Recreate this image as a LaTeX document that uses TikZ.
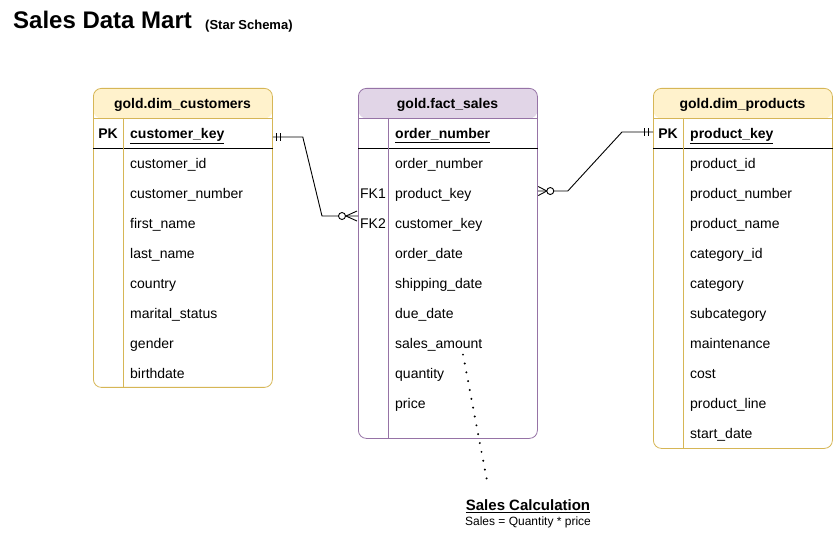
\documentclass[tikz,border=0pt]{standalone}
\usepackage{fontspec}
\setmainfont{Liberation Sans}
\definecolor{dimfill}{HTML}{FFF2CC}
\definecolor{dimborder}{HTML}{D6B656}
\definecolor{factfill}{HTML}{E1D5E7}
\definecolor{factborder}{HTML}{9673A6}
\tikzset{
  tablebox/.style={rounded corners=8pt, fill=white, inner sep=0pt, minimum width=179pt,
    anchor=north west, line width=0.8pt},
  dimtab/.style={tablebox, draw=dimborder,
    path picture={\fill[dimfill] (path picture bounding box.north west) rectangle ([yshift=-30pt]path picture bounding box.north east);}},
  facttab/.style={tablebox, draw=factborder,
    path picture={\fill[factfill] (path picture bounding box.north west) rectangle ([yshift=-30pt]path picture bounding box.north east);}},
  htitle/.style={inner sep=0pt, yshift=-2pt, font=\fontsize{14}{17}\selectfont\bfseries},
  rowtxt/.style={inner sep=0pt, anchor=mid west, yshift=-3pt, font=\fontsize{14}{17}\selectfont},
  keytxt/.style={rowtxt, font=\fontsize{14}{17}\selectfont\bfseries},
  keylab/.style={inner sep=0pt, anchor=mid, yshift=-3pt, font=\fontsize{14}{17}\selectfont\bfseries},
  fklab/.style={inner sep=0pt, anchor=mid, yshift=-3pt, font=\fontsize{14}{17}\selectfont},
  conn/.style={line width=0.9pt, black},
  dotline/.style={line width=2.2pt, dash pattern=on 0pt off 9pt, line cap=round}
}
\begin{document}
\begin{tikzpicture}[x=1pt,y=-1pt]
\useasboundingbox (0,0) rectangle (833,537);

% title
\node[inner sep=0pt, anchor=mid west, font=\fontsize{24}{28}\selectfont\bfseries] (title) at (13,26) {Sales Data Mart};
\node[inner sep=0pt, anchor=mid west, font=\fontsize{13}{15}\selectfont\bfseries] (subtitle) at (205,27) {(Star Schema)};

% ---------------- customers ----------------
\node[dimtab, minimum height=299pt] (cust) at (93,88) {};
\draw[dimborder, line width=0.8pt] ([yshift=-30pt]cust.north west) -- ([yshift=-30pt]cust.north east);
\draw[black, line width=0.8pt] ([yshift=-60pt]cust.north west) -- ([yshift=-60pt]cust.north east);
\draw[dimborder, line width=0.8pt] ([xshift=30pt,yshift=-30pt]cust.north west) -- ([xshift=30pt]cust.south west);
\node[htitle] (ctitle) at (182.5,103) {gold.dim\_customers};
\node[keylab] (cpk) at (108,133) {PK};
\node[keytxt] (ckey) at (130,133) {\underline{customer\_key}};
\foreach \t [count=\i] in {customer\_id, customer\_number, first\_name, last\_name, country, marital\_status, gender, birthdate}
  \node[rowtxt] (c\i) at (130,{133+30*\i}) {\t};

% ---------------- fact ----------------
\node[facttab, minimum height=350pt] (fact) at (358,88) {};
\draw[factborder, line width=0.8pt] ([yshift=-30pt]fact.north west) -- ([yshift=-30pt]fact.north east);
\draw[black, line width=0.8pt] ([yshift=-60pt]fact.north west) -- ([yshift=-60pt]fact.north east);
\draw[factborder, line width=0.8pt] ([xshift=30pt,yshift=-30pt]fact.north west) -- ([xshift=30pt]fact.south west);
\node[htitle] (ftitle) at (447.5,103) {gold.fact\_sales};
\node[keytxt] (fkey) at (395,133) {\underline{order\_number}};
\foreach \t [count=\i] in {order\_number, product\_key, customer\_key, order\_date, shipping\_date, due\_date, sales\_amount, quantity, price}
  \node[rowtxt] (f\i) at (395,{133+30*\i}) {\t};
\node[fklab] (fk1) at (373,193) {FK1};
\node[fklab] (fk2) at (373,223) {FK2};

% ---------------- products ----------------
\node[dimtab, minimum height=360pt] (prod) at (653,88) {};
\draw[dimborder, line width=0.8pt] ([yshift=-30pt]prod.north west) -- ([yshift=-30pt]prod.north east);
\draw[black, line width=0.8pt] ([yshift=-60pt]prod.north west) -- ([yshift=-60pt]prod.north east);
\draw[dimborder, line width=0.8pt] ([xshift=30pt,yshift=-30pt]prod.north west) -- ([xshift=30pt]prod.south west);
\node[htitle] (ptitle) at (742.5,103) {gold.dim\_products};
\node[keylab] (ppk) at (668,133) {PK};
\node[keytxt] (pkey) at (690,133) {\underline{product\_key}};
\foreach \t [count=\i] in {product\_id, product\_number, product\_name, category\_id, category, subcategory, maintenance, cost, product\_line, start\_date}
  \node[rowtxt] (p\i) at (690,{133+30*\i}) {\t};

% ---------------- connector customers -> fact ----------------
\coordinate (s1) at ([yshift=-1pt]cust.east |- ckey);
\coordinate (e1) at ([yshift=9pt]fact.west |- f3);
\draw[conn] (s1) -- ++(30,0) -- ([xshift=-36pt]e1) -- (e1);
\draw[conn] ([xshift=4pt,yshift=4pt]s1) -- ([xshift=4pt,yshift=-4pt]s1);
\draw[conn] ([xshift=7.5pt,yshift=4pt]s1) -- ([xshift=7.5pt,yshift=-4pt]s1);
\draw[conn] ([xshift=-12pt]e1) -- ([xshift=-1pt,yshift=5pt]e1);
\draw[conn] ([xshift=-12pt]e1) -- ([xshift=-1pt,yshift=-5pt]e1);
\draw[conn, fill=white] ([xshift=-16pt]e1) circle[radius=3.5pt];

% ---------------- connector fact -> products ----------------
\coordinate (s2) at ([yshift=4pt]fact.east |- f2);
\coordinate (e2) at ([yshift=4pt]prod.west |- pkey);
\draw[conn] (s2) -- ++(30,0) -- ([xshift=-31pt]e2) -- (e2);
\draw[conn] ([xshift=-8.5pt,yshift=4pt]e2) -- ([xshift=-8.5pt,yshift=-4pt]e2);
\draw[conn] ([xshift=-5pt,yshift=4pt]e2) -- ([xshift=-5pt,yshift=-4pt]e2);
\draw[conn] ([xshift=9pt]s2) -- ([xshift=0.5pt,yshift=4.5pt]s2);
\draw[conn] ([xshift=9pt]s2) -- ([xshift=0.5pt,yshift=-4.5pt]s2);
\draw[conn, fill=white] ([xshift=12.5pt]s2) circle[radius=3.5pt];

% ---------------- note ----------------
\node[inner sep=0pt, font=\fontsize{15}{18}\selectfont\bfseries] (calc) at (528,506) {\underline{Sales Calculation}};
\node[inner sep=0pt, font=\fontsize{12}{14}\selectfont] (formula) at (528,522) {Sales = Quantity * price};
\coordinate (dotend) at (488,486);
\draw[dotline] ([xshift=68pt,yshift=-3pt]f7.south west) -- (dotend);
\end{tikzpicture}
\end{document}
